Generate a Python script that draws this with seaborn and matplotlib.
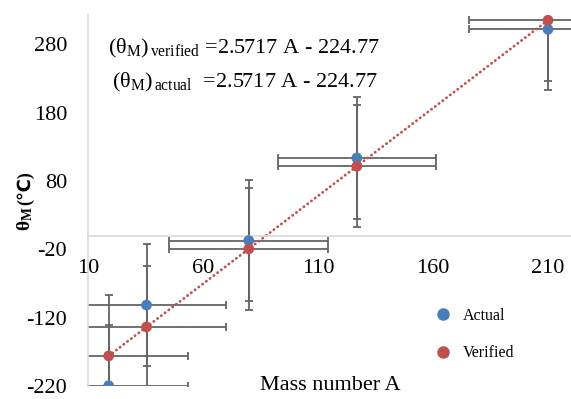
import matplotlib
matplotlib.use('Agg')
import matplotlib.pyplot as plt
import seaborn as sns
import pandas as pd
from matplotlib.lines import Line2D

# ---- data (halogens: F, Cl, Br, I, At) ----
mass_number = [19.0, 35.45, 79.9, 126.9, 210.0]
theta_actual = [-219.6, -101.5, -7.2, 113.7, 302.0]
theta_verified = [-175.9, -133.6, -19.3, 101.6, 315.3]
x_err = [34.5, 34.5, 34.5, 34.5, 34.5]
y_err = [89.0, 89.0, 89.0, 89.0, 89.0]
x_ticks = [10, 60, 110, 160, 210]
y_ticks = [-220, -120, -20, 80, 180, 280]
series_labels = ['Actual', 'Verified']

BLUE = '#4A7EBB'
RED = '#C0504D'
ERR = '#646464'
AXC = '#D9D9D9'

plt.rcParams['font.family'] = ['Liberation Serif', 'DejaVu Sans']
plt.rcParams['axes.unicode_minus'] = False
plt.rcParams['mathtext.fontset'] = 'custom'
plt.rcParams['mathtext.rm'] = 'Liberation Serif'
plt.rcParams['mathtext.it'] = 'Liberation Serif:italic'
plt.rcParams['mathtext.bf'] = 'Liberation Serif:bold'

df = pd.DataFrame({
    'A': mass_number * 2,
    'theta': theta_actual + theta_verified,
    'series': [series_labels[0]] * 5 + [series_labels[1]] * 5,
})

W, H = 571, 399
fig = plt.figure(figsize=(W / 100, H / 100), dpi=100)
ax = fig.add_axes([88 / W, 13 / H, (W - 88) / W, 371 / H])
ax.set_xlim(10, 220)
ax.set_ylim(-220, 323)

# error bars
for yv in (theta_actual, theta_verified):
    ax.errorbar(mass_number, yv, xerr=x_err, yerr=y_err, fmt='none',
                ecolor=ERR, elinewidth=1.3, capsize=2.9, capthick=1.3, zorder=1)

# trendline
sns.regplot(x=mass_number, y=theta_verified, scatter=False, ci=None, truncate=True, ax=ax,
            line_kws=dict(color=RED, lw=2.0, linestyle=(0, (0.1, 1.6)),
                          dash_capstyle='round', zorder=2))

# points
sns.scatterplot(data=df, x='A', y='theta', hue='series',
                palette={series_labels[0]: BLUE, series_labels[1]: RED},
                s=60, linewidth=0, ax=ax, zorder=3, legend=False)

# axes styling
for side in ('top', 'right'):
    ax.spines[side].set_visible(False)
ax.spines['left'].set_color(AXC)
ax.spines['bottom'].set_color(AXC)
ax.spines['left'].set_linewidth(1.2)
ax.spines['bottom'].set_linewidth(1.2)
ax.spines['bottom'].set_position(('data', 0))
ax.set_xticks(x_ticks)
ax.set_yticks(y_ticks)
ax.tick_params(axis='both', length=0, labelsize=16)
ax.tick_params(axis='x', pad=17)
ax.tick_params(axis='y', pad=15)
ax.set_xlabel('')
ax.set_ylabel('')
ax.set_facecolor('white')

# labels
fig.text(330 / W, 1 - 385 / H, 'Mass number A', ha='center', va='center', fontsize=16)

# y label: bold theta with subscript M, then (℃) in a font that has the glyph
t1 = fig.text(30 / W, 1 - 231 / H, r'$\mathbf{θ_M}$', rotation=90, rotation_mode='anchor',
              ha='left', va='baseline', fontsize=14)
fig.canvas.draw()
bb = t1.get_window_extent(renderer=fig.canvas.get_renderer())
fig.text(30 / W, (bb.y1 + 1) / H, '(℃)', rotation=90, rotation_mode='anchor',
         ha='left', va='baseline', fontsize=13, fontweight='bold',
         family=['Liberation Serif', 'DejaVu Sans'])

# equations
fig.text(108 / W, 1 - 53 / H, r'$(\mathrm{θ_M})_{\,\mathrm{verified}}$' + ' =2.5717 A - 224.77',
         ha='left', va='baseline', fontsize=16)
fig.text(112 / W, 1 - 87 / H, r'$(\mathrm{θ_M})_{\,\mathrm{actual}}$' + '  =2.5717 A - 224.77',
         ha='left', va='baseline', fontsize=16)

# legend
handles = [Line2D([], [], ls='none', marker='o', ms=8, mfc=c, mec=c) for c in (BLUE, RED)]
fig.legend(handles, series_labels, loc='center left', bbox_to_anchor=(435 / W, 1 - 334.5 / H),
           frameon=False, fontsize=11.5, handlelength=1.0, handletextpad=0.75,
           labelspacing=1.35, borderpad=0, borderaxespad=0)

fig.savefig('out.png', dpi=100, facecolor='white')
